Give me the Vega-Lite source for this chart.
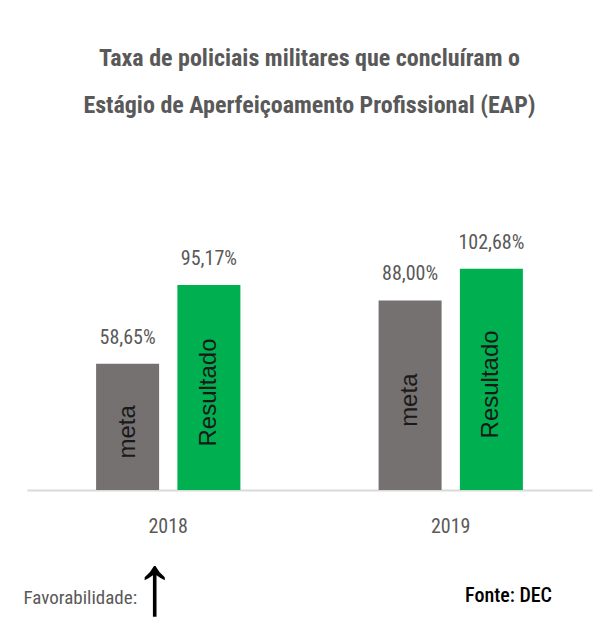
{
  "$schema": "https://vega.github.io/schema/vega-lite/v6.json",
  "width": 565,
  "height": 237,
  "autosize": "none",
  "padding": {"left": 27, "top": 253, "right": 11, "bottom": 137},
  "background": "white",
  "title": {
    "text": ["Taxa de policiais militares que concluíram o", "Estágio de Aperfeiçoamento Profissional (EAP)"],
    "font": "'Roboto Condensed'",
    "fontSize": 24,
    "fontWeight": "bold",
    "color": "#595959",
    "anchor": "middle",
    "frame": "group",
    "lineHeight": 47,
    "offset": 115
  },
  "data": {
    "values": [
      {"ano": "2018", "serie": "meta", "valor": 58.65, "rotulo": "58,65%"},
      {"ano": "2018", "serie": "Resultado", "valor": 95.17, "rotulo": "95,17%"},
      {"ano": "2019", "serie": "meta", "valor": 88.00, "rotulo": "88,00%"},
      {"ano": "2019", "serie": "Resultado", "valor": 102.68, "rotulo": "102,68%"}
    ]
  },
  "encoding": {
    "x": {
      "field": "ano",
      "type": "nominal",
      "scale": {"paddingInner": 0, "paddingOuter": 0},
      "axis": {
        "title": "Favorabilidade:",
        "titleFont": "'Roboto Condensed'",
        "titleFontSize": 19,
        "titleFontWeight": "normal",
        "titleColor": "#595959",
        "titleAlign": "left",
        "titleBaseline": "middle",
        "titleX": -4,
        "titleY": 107,
        "labelAngle": 0,
        "labelFont": "'Roboto Condensed'",
        "labelFontSize": 20,
        "labelColor": "#595959",
        "labelPadding": 36,
        "labelBaseline": "middle",
        "ticks": false,
        "domainColor": "#d9d9d9",
        "domainWidth": 2
      }
    },
    "xOffset": {
      "field": "serie",
      "type": "nominal",
      "sort": ["meta", "Resultado"],
      "scale": {"paddingInner": 0.225, "paddingOuter": 0.85}
    }
  },
  "layer": [
    {
      "mark": {"type": "bar"},
      "encoding": {
        "y": {
          "field": "valor",
          "type": "quantitative",
          "scale": {"domain": [0, 110]},
          "axis": {
            "title": "↑",
            "titleFont": "Liberation Sans",
            "titleFontSize": 86,
            "titleFontWeight": "bold",
            "titleColor": "#000000",
            "titleAngle": 0,
            "titleAlign": "center",
            "titleBaseline": "middle",
            "titleX": 127,
            "titleY": 334,
            "labels": false,
            "ticks": false,
            "domain": false,
            "grid": false
          }
        },
        "color": {
          "field": "serie",
          "type": "nominal",
          "scale": {"domain": ["meta", "Resultado"], "range": ["#767171", "#00B050"]},
          "legend": null
        }
      }
    },
    {
      "mark": {
        "type": "text",
        "baseline": "middle",
        "align": "center",
        "dy": -26,
        "font": "'Roboto Condensed'",
        "fontSize": 20,
        "color": "#595959"
      },
      "encoding": {
        "y": {"field": "valor", "type": "quantitative", "scale": {"domain": [0, 110]}, "axis": null},
        "text": {"field": "rotulo"}
      }
    },
    {
      "mark": {
        "type": "text",
        "baseline": "middle",
        "align": "center",
        "angle": 270,
        "dx": -5,
        "font": "Liberation Sans",
        "fontSize": 24,
        "color": "#1a1a1a"
      },
      "encoding": {
        "y": {
          "field": "valor",
          "type": "quantitative",
          "scale": {"domain": [0, 220]},
          "axis": {
            "orient": "right",
            "title": "Fonte: DEC",
            "titleFont": "'Roboto Condensed'",
            "titleFontSize": 20,
            "titleFontWeight": 500,
            "titleColor": "#000000",
            "titleAngle": 0,
            "titleAlign": "center",
            "titleBaseline": "middle",
            "titleX": -84,
            "titleY": 342,
            "labels": false,
            "ticks": false,
            "domain": false,
            "grid": false
          }
        },
        "text": {"field": "serie"}
      }
    }
  ],
  "resolve": {"scale": {"y": "independent"}, "axis": {"y": "independent"}},
  "config": {"view": {"stroke": null}}
}
